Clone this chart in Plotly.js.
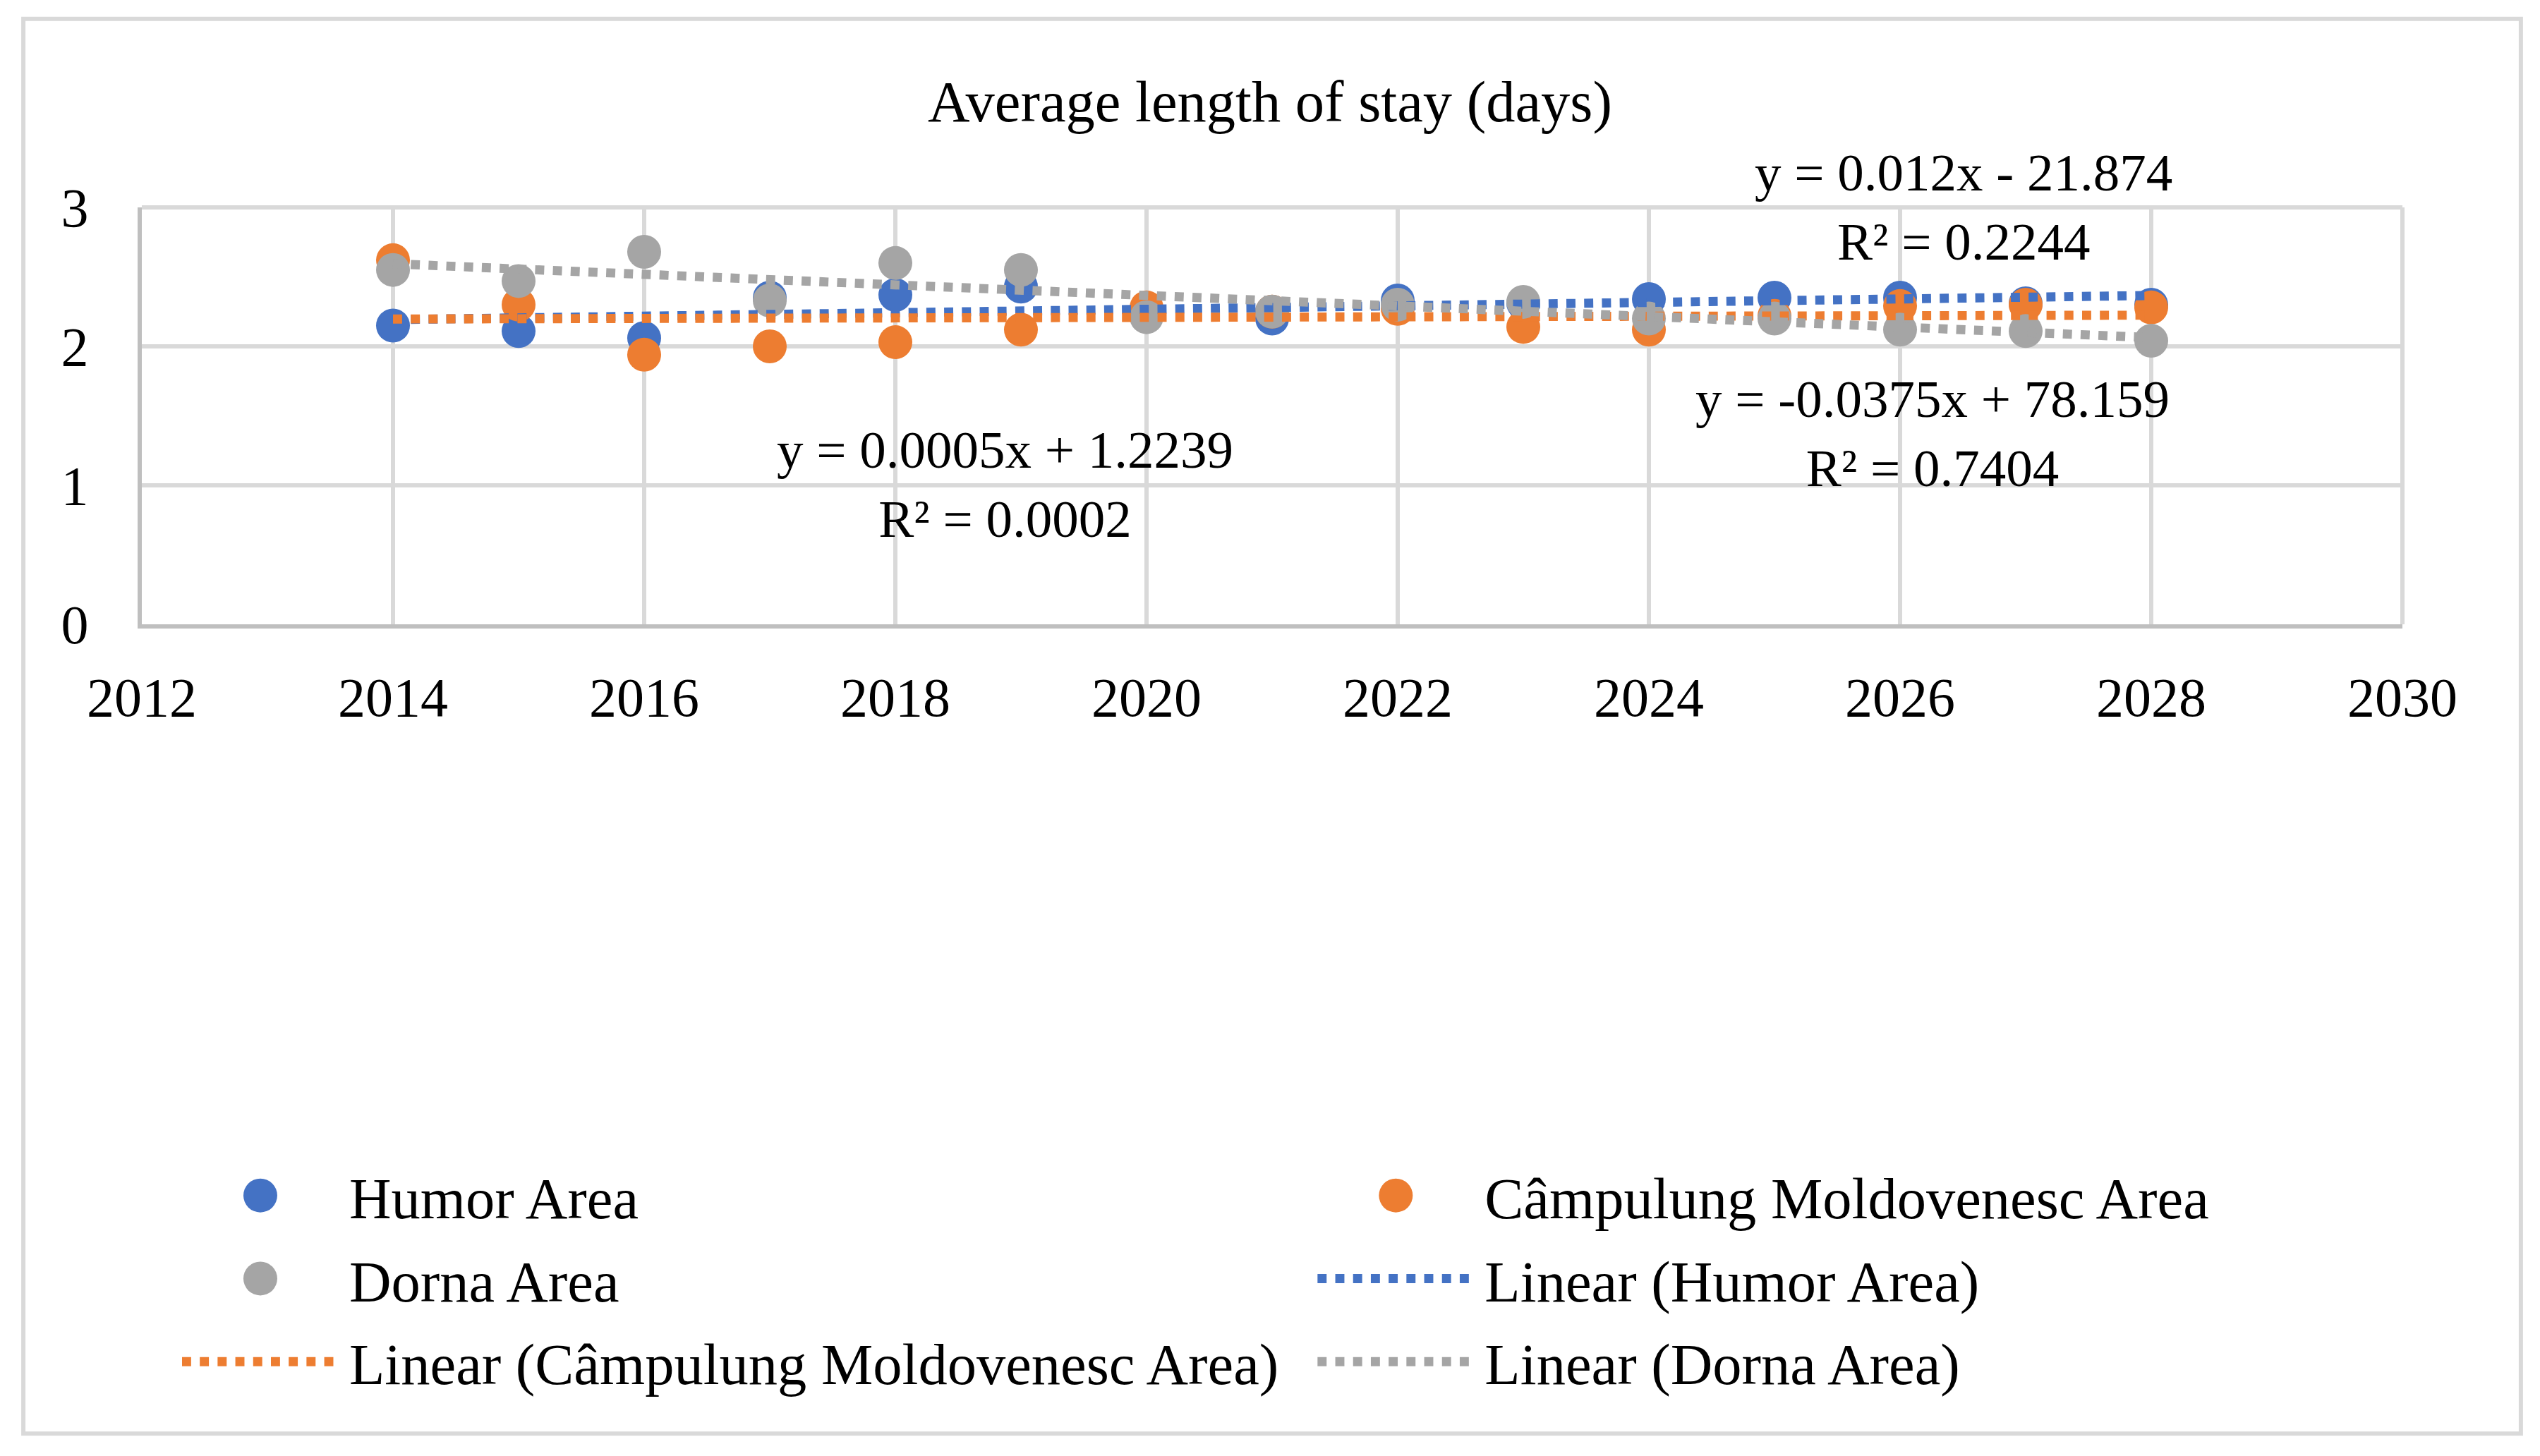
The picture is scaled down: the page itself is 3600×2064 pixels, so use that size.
<!DOCTYPE html>
<html>
<head>
<meta charset="utf-8">
<script src="https://cdn.plot.ly/plotly-3.0.1.min.js"></script>
<style>
  html, body { margin: 0; padding: 0; background: #fff; }
  #page { width: 3600px; height: 2064px; overflow: hidden; position: relative; }
  #wrap { position: absolute; left: 0; top: 0; width: 1200px; height: 688px; transform: scale(3); transform-origin: 0 0; }
  #chart { width: 1200px; height: 688px; }
</style>
</head>
<body>
<div id="page"><div id="wrap"><div id="chart"></div></div></div>
<script>
// values
const years = [2014, 2015, 2016, 2017, 2018, 2019, 2020, 2021, 2022, 2023, 2024, 2025, 2026, 2027, 2028];
const humor = [2.15, 2.11, 2.06, 2.35, 2.37, 2.43, 2.23, 2.20, 2.33, 2.31, 2.34, 2.35, 2.35, 2.31, 2.30];
const campulung = [2.62, 2.30, 1.94, 2.00, 2.03, 2.12, 2.28, 2.25, 2.27, 2.14, 2.12, 2.22, 2.29, 2.30, 2.28];
const dorna = [2.55, 2.47, 2.68, 2.33, 2.60, 2.55, 2.21, 2.25, 2.30, 2.32, 2.20, 2.20, 2.12, 2.11, 2.04];

const names = ['Humor Area', 'Câmpulung Moldovenesc Area', 'Dorna Area'];
const colors = ['#4472C4', '#ED7D31', '#A5A5A5'];
const equations = [
    'y = 0.012x - 21.874<br>R² = 0.2244',
    'y = 0.0005x + 1.2239<br>R² = 0.0002',
    'y = -0.0375x + 78.159<br>R² = 0.7404'
];

const FONT = 'Liberation Serif, Times New Roman, serif';
const GRID = '#D9D9D9';

// least squares trend line, evaluated at both ends of the x range
function trend(xs, ys) {
    const n = xs.length;
    const mx = xs.reduce((a, b) => a + b, 0) / n;
    const my = ys.reduce((a, b) => a + b, 0) / n;
    let sxy = 0, sxx = 0;
    for (let i = 0; i < n; i++) {
        sxy += (xs[i] - mx) * (ys[i] - my);
        sxx += (xs[i] - mx) * (xs[i] - mx);
    }
    const b = sxy / sxx;
    const a = my - b * mx;
    const x = [xs[0], xs[n - 1]];
    return {x: x, y: x.map(v => a + b * v)};
}

const series = [humor, campulung, dorna];
// left column of the legend: Humor, Dorna, Linear (Câmpulung); right: the rest
const pointLegend = ['legend', 'legend2', 'legend'];
const lineLegend = ['legend2', 'legend', 'legend2'];

const data = [];
series.forEach((s, i) => {
    data.push({
        x: years,
        y: s,
        type: 'scatter',
        mode: 'markers',
        name: names[i],
        legend: pointLegend[i],
        legendgroup: 'p' + i,
        marker: {color: colors[i], size: 16},
        cliponaxis: false
    });
});
series.forEach((s, i) => {
    const t = trend(years, s);
    data.push({
        x: t.x,
        y: t.y,
        type: 'scatter',
        mode: 'lines',
        name: 'Linear (' + names[i] + ')',
        legend: lineLegend[i],
        legendgroup: 'l' + i,
        line: {color: colors[i], width: 4.3, dash: '4.3px,4.1px'}
    });
});

const legendStyle = {
    orientation: 'v',
    xanchor: 'left',
    yanchor: 'top',
    itemwidth: 74,
    tracegroupgap: 0.5,
    bgcolor: 'rgba(0,0,0,0)',
    font: {family: FONT, size: 27.5, color: '#000'}
};

const layout = {
    width: 1200,
    height: 688,
    paper_bgcolor: '#fff',
    plot_bgcolor: '#fff',
    margin: {l: 67, r: 65, t: 98.3, b: 392.7, pad: 0},
    font: {family: FONT, size: 26, color: '#000'},
    title: {
        text: 'Average length of stay (days)',
        font: {family: FONT, size: 27.5, color: '#000'},
        xref: 'container', x: 0.5, xanchor: 'center',
        yref: 'container', y: 0.9307, yanchor: 'middle'
    },
    xaxis: {
        range: [2012, 2030],
        tick0: 2012,
        dtick: 2,
        showgrid: true,
        gridcolor: GRID,
        gridwidth: 2,
        zeroline: false,
        showline: true,
        linecolor: '#BFBFBF',
        linewidth: 2,
        ticks: '',
        ticklabelstandoff: 10,
        tickfont: {family: FONT, size: 26, color: '#000'}
    },
    yaxis: {
        range: [0, 3],
        tick0: 0,
        dtick: 1,
        showgrid: true,
        gridcolor: GRID,
        gridwidth: 2,
        zeroline: false,
        showline: true,
        linecolor: '#BFBFBF',
        linewidth: 2,
        ticks: '',
        ticklabelstandoff: 18,
        tickfont: {family: FONT, size: 26, color: '#000'}
    },
    showlegend: true,
    legend: Object.assign({x: 0.0131, y: -1.2463}, legendStyle),
    legend2: Object.assign({x: 0.5154, y: -1.2463}, legendStyle),
    annotations: [
        {x: 2026.51, y: 2.999, text: equations[0]},
        {x: 2018.87, y: 1.010, text: equations[1]},
        {x: 2026.25, y: 1.371, text: equations[2]}
    ].map(a => Object.assign({
        xref: 'x', yref: 'y', showarrow: false,
        xanchor: 'center', yanchor: 'middle', align: 'center',
        font: {family: FONT, size: 25, color: '#000'}
    }, a)),
    shapes: [
        // chart border
        {type: 'rect', xref: 'paper', yref: 'paper',
         x0: -0.0524, x1: 1.0524, y0: -1.941, y1: 1.4523,
         line: {color: GRID, width: 2}, layer: 'below'},
        // top and right edges of the plot area (grid lines at y = 3 and x = 2030)
        {type: 'line', xref: 'paper', yref: 'paper', x0: 0, x1: 1, y0: 1, y1: 1,
         line: {color: GRID, width: 2}, layer: 'below'},
        {type: 'line', xref: 'paper', yref: 'paper', x0: 1, x1: 1, y0: 0, y1: 1,
         line: {color: GRID, width: 2}, layer: 'below'}
    ]
};

Plotly.newPlot('chart', data, layout, {staticPlot: true, displayModeBar: false});
</script>
</body>
</html>
